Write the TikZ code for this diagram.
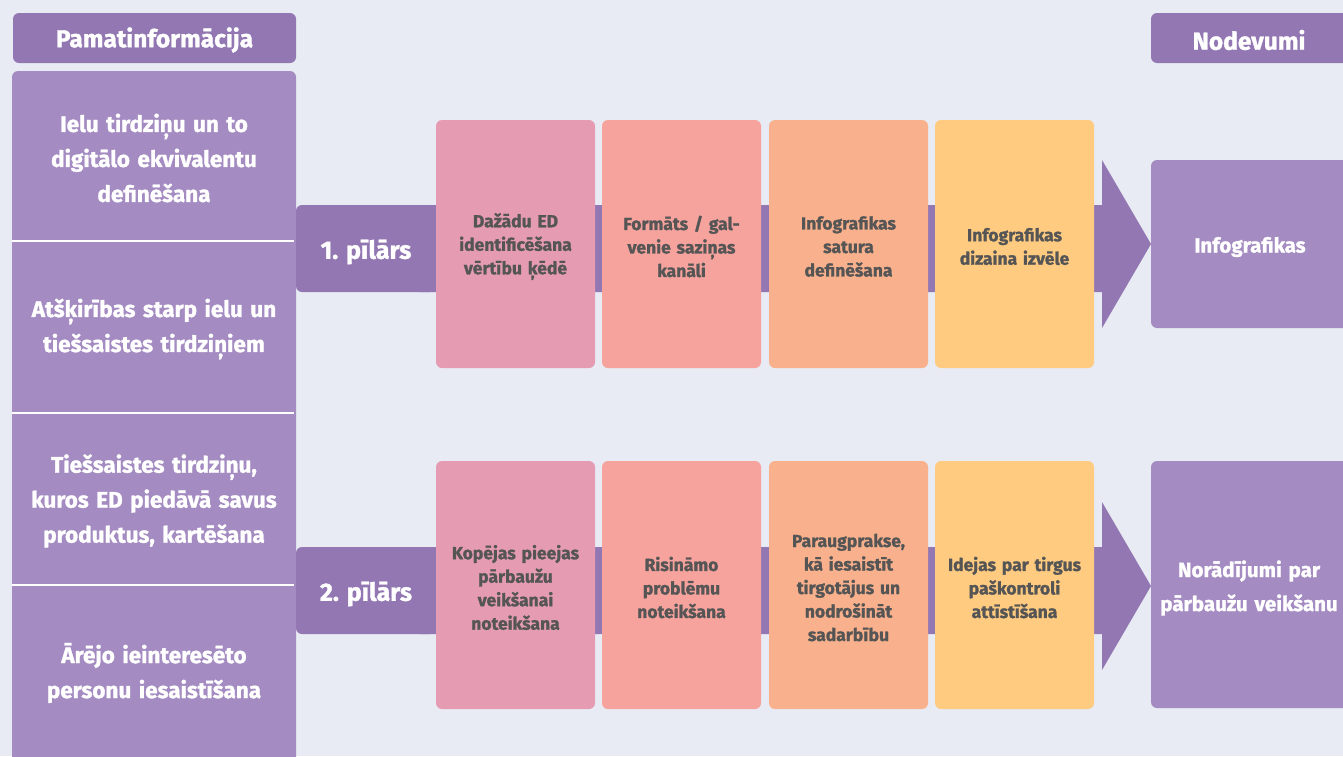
\documentclass[tikz,border=0pt]{standalone}
\usepackage{fontspec}
\setmainfont{Fira Sans}[BoldFeatures={FakeBold=1.3}]
\definecolor{bgc}{HTML}{E8EBF3}
\definecolor{darkp}{HTML}{9277B3}
\definecolor{lightp}{HTML}{A48CC2}
\definecolor{cpink}{HTML}{E59CB3}
\definecolor{csalmon}{HTML}{F6A39D}
\definecolor{cpeach}{HTML}{F9B18D}
\definecolor{cyellow}{HTML}{FECB80}
\definecolor{tgray}{HTML}{555555}
\begin{document}
\begin{tikzpicture}[x=1pt,y=-1pt,
  hdr/.style={fill=darkp, rounded corners=6pt, minimum height=50pt, inner sep=0pt, text=white, font=\fontsize{24.5}{28}\selectfont\bfseries},
  hdrtext/.style={text=white, inner sep=0pt, font=\fontsize{24.5}{28}\selectfont\bfseries},
  lefttext/.style={text=white, align=center, text width=280pt, font=\fontsize{22.5}{35}\selectfont\bfseries},
  pillar/.style={fill=darkp, rounded corners=6pt, minimum width=140pt, minimum height=87pt, inner sep=0pt},
  pillartext/.style={text=white, font=\fontsize{25}{28}\selectfont\bfseries},
  cardbox/.style={rounded corners=6pt, minimum width=159pt, minimum height=248pt, inner sep=0pt},
  cardtext/.style={text=tgray, align=center, text width=156pt, inner sep=0pt, font=\fontsize{17.5}{23.5}\selectfont\bfseries},
  outbox/.style={fill=lightp, rounded corners=6pt, minimum width=199pt, inner sep=0pt},
  outtext/.style={text=white, align=center, text width=197pt, inner sep=0pt, font=\fontsize{20.5}{34}\selectfont\bfseries}
]
\fill[bgc] (0,0) rectangle (1343,756);
\useasboundingbox (0,0) rectangle (1343,756);

% left column
\node[hdr, minimum width=283pt] (hl) at (154.5,38) {};
\node[hdrtext] (hlt) at (154.5,40) {Pamatinformācija};
\fill[lightp, rounded corners=6pt] (12,790) -- (12,71) -- (296,71) -- (296,790) -- cycle;
\foreach \yy in {241,413,585} \draw[white, line width=1.3pt] (12,\yy) -- (294,\yy);
\node[lefttext] (l1) at (154,158) {Ielu tirdziņu un to\\digitālo ekvivalentu\\definēšana};
\node[lefttext] (l2) at (154,329) {Atšķirības starp ielu un\\tiešsaistes tirdziņiem};
\node[lefttext] (l3) at (154,501) {Tiešsaistes tirdziņu,\\kuros ED piedāvā savus\\produktus, kartēšana};
\node[lefttext] (l4) at (154,673) {Ārējo ieinteresēto\\personu iesaistīšana};

% right header
\node[hdr, minimum width=199pt] (hr) at (1250.5,38) {};
\node[hdrtext] (hrt) at (1249,40) {Nodevumi};

% pillar 1
\node[pillar] (p1) at (366,248.5) {};
\node[pillartext] (p1t) at (366,252) {1. pīlārs};
\coordinate (a1) at (1151,244);
\fill[darkp] (420,205) -- (1102,205) -- (1102,160) -- (a1) -- (1102,328) -- (1102,292) -- (420,292) -- cycle;
\node[cardbox, fill=cpink] (c11) at (515.5,244) {};
\node[cardbox, fill=csalmon] (c12) at (681.5,244) {};
\node[cardbox, fill=cpeach] (c13) at (848.5,244) {};
\node[cardbox, fill=cyellow] (c14) at (1014.5,244) {};
\node[cardtext] at (515.5,246.5) {Dažādu ED\\identificēšana\\vērtību ķēdē};
\node[cardtext] at (681.5,246.5) {Formāts / gal-\\venie saziņas\\kanāli};
\node[cardtext] at (848.5,246.5) {Infografikas\\satura\\definēšana};
\node[cardtext] at (1014.5,246.5) {Infografikas\\dizaina izvēle};
\node[outbox, minimum height=168pt] (o1) at (1250.5,244) {};
\node[outtext] (o1t) at (1250,247) {Infografikas};

% pillar 2
\node[pillar] (p2) at (366,590.5) {};
\node[pillartext] (p2t) at (366,594) {2. pīlārs};
\coordinate (a2) at (1151,586);
\fill[darkp] (420,547) -- (1102,547) -- (1102,502) -- (a2) -- (1102,670) -- (1102,634) -- (420,634) -- cycle;
\node[cardbox, fill=cpink] (c21) at (515.5,585) {};
\node[cardbox, fill=csalmon] (c22) at (681.5,585) {};
\node[cardbox, fill=cpeach] (c23) at (848.5,585) {};
\node[cardbox, fill=cyellow] (c24) at (1014.5,585) {};
\node[cardtext] at (515.5,587.5) {Kopējas pieejas\\pārbaužu\\veikšanai\\noteikšana};
\node[cardtext] at (681.5,587.5) {Risināmo\\problēmu\\noteikšana};
\node[cardtext] at (848.5,587.5) {Paraugprakse,\\kā iesaistīt\\tirgotājus un\\nodrošināt\\sadarbību};
\node[cardtext] at (1014.5,587.5) {Idejas par tirgus\\paškontroli\\attīstīšana};
\node[outbox, minimum height=247pt] (o2) at (1250.5,584.5) {};
\node[outtext] (o2t) at (1249,588) {Norādījumi par\\pārbaužu veikšanu};
\end{tikzpicture}
\end{document}
